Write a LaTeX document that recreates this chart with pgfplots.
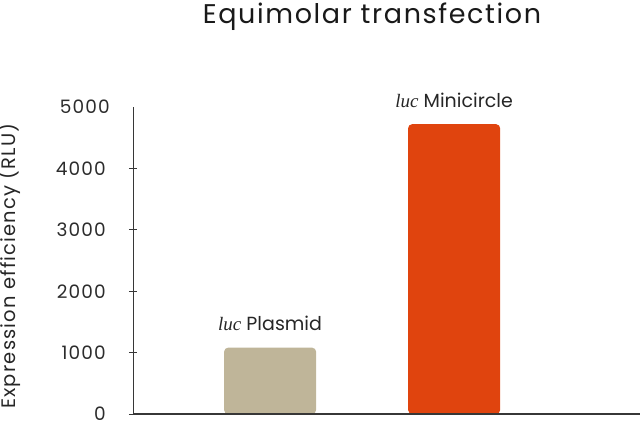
\documentclass[border=0pt]{standalone}
\usepackage{fontspec}
\setmainfont{Poppins}
\newfontfamily\spaced[LetterSpace=6]{Poppins}
\newfontfamily\lucfont{Liberation Serif}
\usepackage{pgfplots}
\pgfplotsset{compat=1.18}
\definecolor{plasmid}{RGB}{191,181,153}
\definecolor{minicircle}{RGB}{224,68,14}
\definecolor{axisgray}{RGB}{55,55,55}
\newcommand{\luc}{{\lucfont\itshape luc}}
\begin{document}
\begin{tikzpicture}
  \begin{axis}[
    at={(0,0)}, anchor=south west,
    scale only axis,
    width=507bp, height=307bp,
    xmin=0.255, xmax=3.01,
    ymin=0, ymax=5000,
    axis x line=bottom, axis y line=left,
    x axis line style={-, axisgray, line width=1.3bp},
    y axis line style={-, axisgray, line width=0.9bp},
    xtick=\empty,
    ytick={0,1000,2000,3000,4000},
    extra y ticks={5000},
    extra y tick style={major tick length=0pt},
    tick align=center,
    major tick length=8bp,
    tick style={axisgray, line width=0.9bp},
    /pgf/number format/assume math mode=true,
    /pgf/number format/1000 sep={},
    scaled y ticks=false,
    yticklabel style={anchor=east, inner sep=0pt, xshift=-23bp,
      font=\spaced\fontsize{18.5bp}{22bp}\selectfont, text=axisgray!80!black},
    ybar, bar width=92bp, bar shift=0pt,
    nodes near coords,
    point meta=explicit symbolic,
    every node near coord/.append style={anchor=base, yshift=17bp, inner sep=0pt,
      font=\fontsize{19bp}{22bp}\selectfont, text=black!85},
    clip=false,
    axis on top,
  ]
    \addplot[fill=plasmid, draw=none, rounded corners=4bp]
      coordinates {(1,1080) [\luc\ Plasmid]};
    \addplot[fill=minicircle, draw=none, rounded corners=4bp]
      coordinates {(2,4720) [\luc\ Minicircle]};
  \end{axis}
  \node[anchor=base, font=\spaced\fontsize{27bp}{32bp}\selectfont, text=black!90]
    at (239bp,390bp) {Equimolar transfection};
  \node[anchor=base, rotate=90, font=\spaced\fontsize{19.5bp}{23bp}\selectfont, text=black!85]
    at (-117bp,148bp) {Expression efficiency (RLU)};
  \pgfresetboundingbox
  \path[use as bounding box] (-133bp,-14bp) rectangle (507bp,414bp);
\end{tikzpicture}
\end{document}
